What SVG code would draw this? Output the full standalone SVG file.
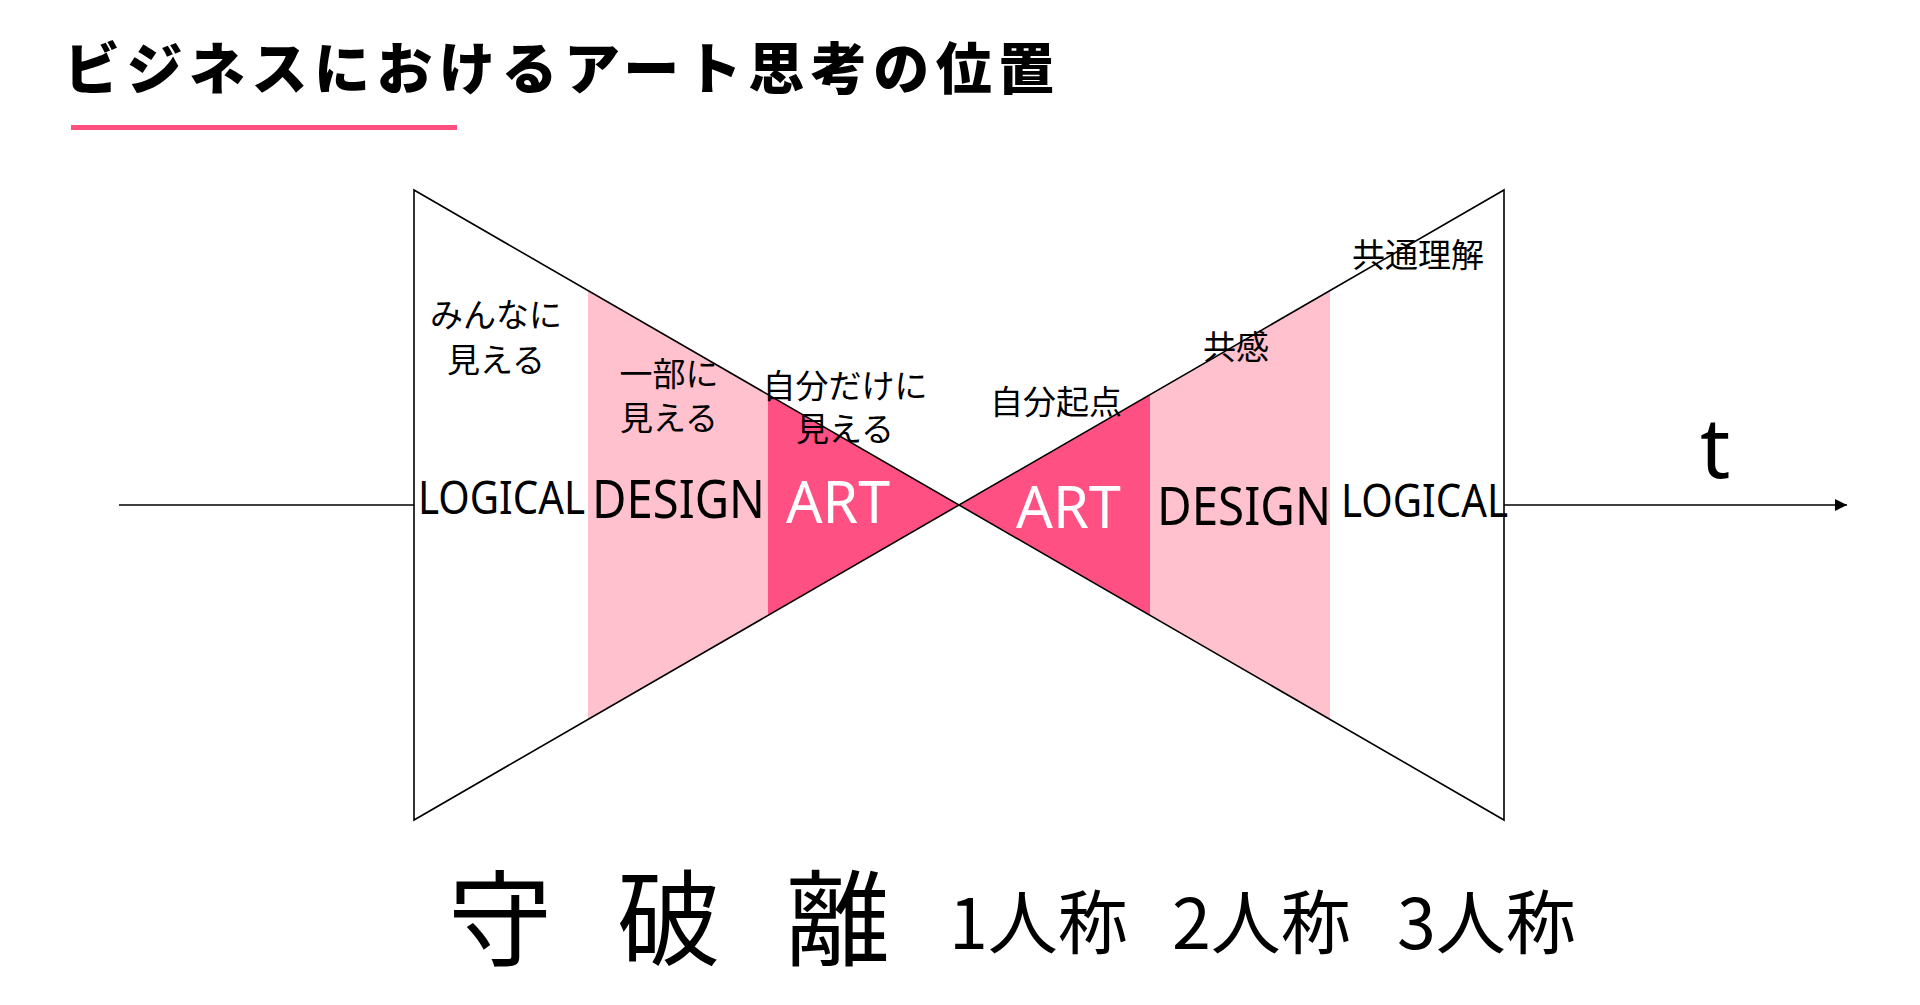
<svg xmlns="http://www.w3.org/2000/svg" width="1920" height="1005" viewBox="0 0 1920 1005">
<defs>
<marker id="arrow" viewBox="0 0 12 12" refX="12" refY="6" markerWidth="12" markerHeight="12" markerUnits="userSpaceOnUse" orient="auto">
<path d="M0,0 L12,6 L0,12 Z" fill="#000"/>
</marker>
</defs>
<style>
.jp{font-family:"Noto Sans CJK JP","Noto Sans",sans-serif;fill:#000;}
.lbl{font-size:33px;text-anchor:middle;}
.en{font-family:"Noto Sans","Liberation Sans",sans-serif;fill:#000;}
.light{fill:#FFC1CD;}
.dark{fill:#FF5083;}
.edge{fill:none;stroke:#000;stroke-width:1.6;}
</style>
<rect width="1920" height="1005" fill="#fff"/>
<g id="title">
<text class="jp" x="64" y="89" font-size="56" font-weight="900" letter-spacing="6.5">ビジネスにおけるアート思考の位置</text>
<rect x="71" y="125" width="386" height="5" fill="#FF4F81"/>
</g>
<g id="regions">
<polygon id="design-left" class="light" points="588,290.6 768,394.6 768,615.4 588,719.4"/>
<polygon id="art-left" class="dark" points="768,394.6 959,505 768,615.4"/>
<polygon id="art-right" class="dark" points="959,505 1150,394.6 1150,615.4"/>
<polygon id="design-right" class="light" points="1150,394.6 1330,290.6 1330,719.4 1150,615.4"/>
</g>
<g id="bowtie">
<path class="edge" d="M414,190 L1504,820 L1504,190 L414,820 Z"/>
</g>
<g id="connectors">
<line x1="119" y1="505" x2="414" y2="505" stroke="#000" stroke-width="1.6"/>
<line x1="1504" y1="505" x2="1847" y2="505" stroke="#000" stroke-width="1.6" marker-end="url(#arrow)"/>
</g>
<g id="labels-top">
<text class="jp lbl" x="496" y="327">みんなに</text>
<text class="jp lbl" x="496" y="372">見える</text>
<text class="jp lbl" x="669" y="386">一部に</text>
<text class="jp lbl" x="669" y="430">見える</text>
<text class="jp lbl" x="845" y="398">自分だけに</text>
<text class="jp lbl" x="845" y="441">見える</text>
<text class="jp lbl" x="1056" y="414">自分起点</text>
<text class="jp lbl" x="1236" y="359">共感</text>
<text class="jp lbl" x="1418" y="267">共通理解</text>
</g>
<g id="labels-mid">
<text class="en" x="418" y="514" font-size="46" textLength="167" lengthAdjust="spacingAndGlyphs">LOGICAL</text>
<text class="en" x="592" y="518" font-size="52" textLength="173" lengthAdjust="spacingAndGlyphs">DESIGN</text>
<text class="en" x="786" y="523" font-size="58" fill="#fff" style="fill:#fff" textLength="104" lengthAdjust="spacingAndGlyphs">ART</text>
<text class="en" x="1016" y="528" font-size="58" style="fill:#fff" textLength="105" lengthAdjust="spacingAndGlyphs">ART</text>
<text class="en" x="1157" y="525" font-size="52" textLength="174" lengthAdjust="spacingAndGlyphs">DESIGN</text>
<text class="en" x="1341" y="517" font-size="46" textLength="167" lengthAdjust="spacingAndGlyphs">LOGICAL</text>
<text class="en" x="1700" y="478" font-size="84">t</text>
</g>
<g id="labels-bottom">
<text class="jp" x="500" y="958" font-size="104" text-anchor="middle">守</text>
<text class="jp" x="669" y="958" font-size="104" text-anchor="middle">破</text>
<text class="jp" x="838" y="958" font-size="104" text-anchor="middle">離</text>
<text class="jp" x="949" y="949" font-size="70">1人称</text>
<text class="jp" x="1172" y="949" font-size="70">2人称</text>
<text class="jp" x="1397" y="949" font-size="70">3人称</text>
</g>
</svg>
